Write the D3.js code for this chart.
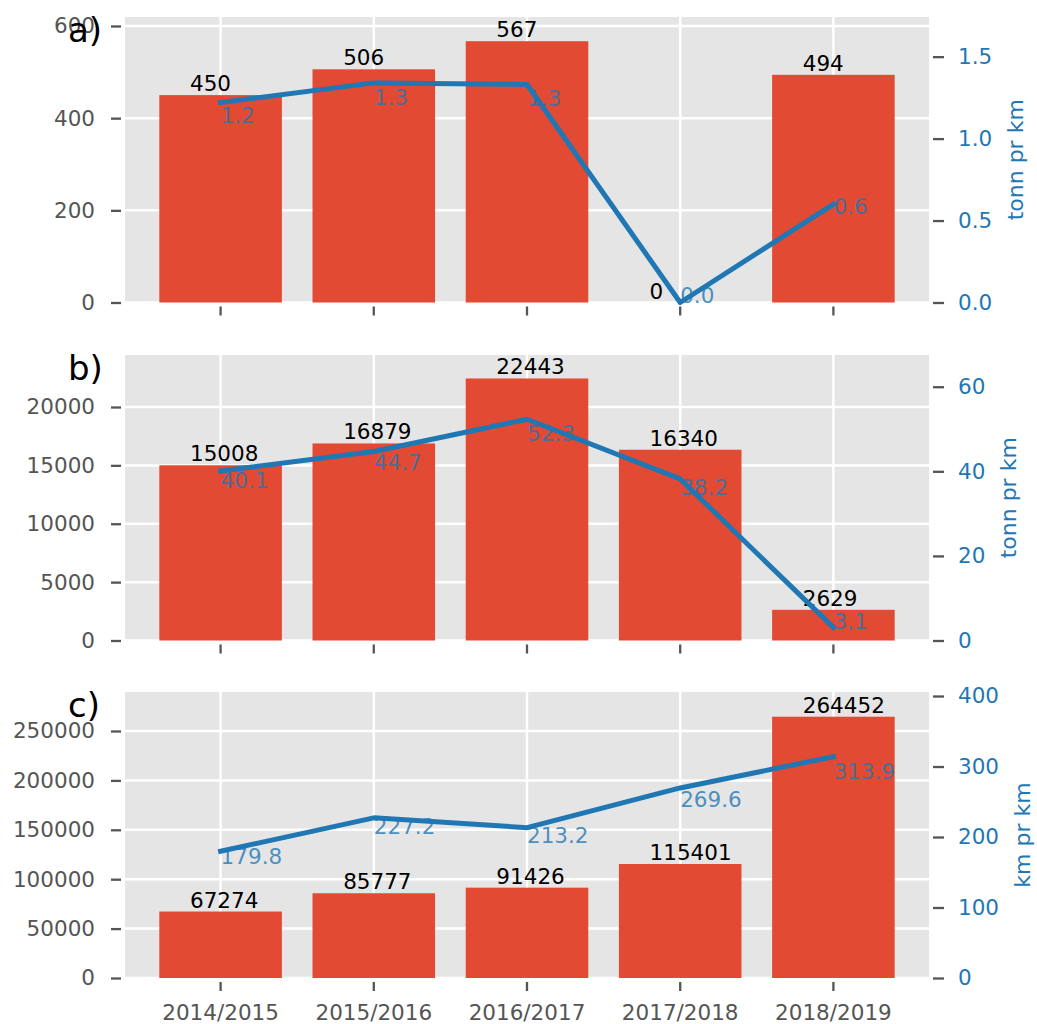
<!DOCTYPE html>
<html><head><meta charset="utf-8">
<script src="https://cdn.jsdelivr.net/npm/d3@7"></script>
<style>body{margin:0;background:#fff} text{font-family:"DejaVu Sans",sans-serif}</style>
</head><body><svg id="chart" width="1037" height="1024"></svg>
<script>
// ---- data ----
const seasons = ["2014/2015","2015/2016","2016/2017","2017/2018","2018/2019"];
const amountA = [450, 506, 567, 0, 494];
const rateA   = [1.22, 1.34, 1.33, 0.0, 0.6];
const amountB = [15008, 16879, 22443, 16340, 2629];
const rateB   = [40.1, 44.7, 52.3, 38.2, 3.1];
const amountC = [67274, 85777, 91426, 115401, 264452];
const rateC   = [179.8, 227.2, 213.2, 269.6, 313.9];
const leftTicksA  = [0, 200, 400, 600];
const leftTicksB  = [0, 5000, 10000, 15000, 20000];
const leftTicksC  = [0, 50000, 100000, 150000, 200000, 250000];
const rightTicksA = [0.0, 0.5, 1.0, 1.5];
const rightTicksB = [0, 20, 40, 60];
const rightTicksC = [0, 100, 200, 300, 400];
const panelLetters = ["a)", "b)", "c)"];
const rightTitles  = ["tonn pr km", "tonn pr km", "km pr km"];

// ---- layout ----
const svg = d3.select("#chart");
const L = 125, R = 929;
const FS = 21.5;
const panels = [
  {top:17,  bottom:302.5, amount:amountA, rate:rateA, lt:leftTicksA, rt:rightTicksA, lmax:619.5,  rmax:1.742, rfmt:d3.format(".1f"), letter:panelLetters[0], title:rightTitles[0], xlab:false},
  {top:355, bottom:640.5, amount:amountB, rate:rateB, lt:leftTicksB, rt:rightTicksB, lmax:24454,  rmax:67.5,  rfmt:d3.format("d"),   letter:panelLetters[1], title:rightTitles[1], xlab:false},
  {top:692, bottom:978,   amount:amountC, rate:rateC, lt:leftTicksC, rt:rightTicksC, lmax:289474, rmax:405.7, rfmt:d3.format("d"),   letter:panelLetters[2], title:rightTitles[2], xlab:true}
];

const x = d3.scaleBand().domain(seasons).range([L, R]).paddingInner(0.2).paddingOuter(0.224);
const cx = s => x(s) + x.bandwidth()/2;

panels.forEach(p => {
  const g = svg.append("g");
  const yL = d3.scaleLinear().domain([0, p.lmax]).range([p.bottom, p.top]);
  const yR = d3.scaleLinear().domain([0, p.rmax]).range([p.bottom, p.top]);

  g.append("rect").attr("x", L).attr("y", p.top).attr("width", R - L).attr("height", p.bottom - p.top)
    .attr("fill", "#E5E5E5");
  // grid
  g.selectAll(".hg").data(p.lt).join("line")
    .attr("x1", L).attr("x2", R).attr("y1", d => yL(d)).attr("y2", d => yL(d))
    .attr("stroke", "#fff").attr("stroke-width", 2.5);
  g.selectAll(".vg").data(seasons).join("line")
    .attr("x1", d => cx(d)).attr("x2", d => cx(d)).attr("y1", p.top).attr("y2", p.bottom)
    .attr("stroke", "#fff").attr("stroke-width", 2.5);
  // bars
  g.selectAll(".bar").data(p.amount).join("rect")
    .attr("x", (d, i) => x(seasons[i])).attr("width", x.bandwidth())
    .attr("y", d => yL(d)).attr("height", d => p.bottom - yL(d))
    .attr("fill", "#E24A33");
  // bar labels
  g.selectAll(".bl").data(p.amount).join("text")
    .attr("x", (d, i) => cx(seasons[i]) - 0.2 * x.step())
    .attr("y", d => yL(d) - 4)
    .attr("font-size", FS).attr("fill", "#000")
    .text(d => d);
  // line
  const line = d3.line().x((d, i) => cx(seasons[i])).y(d => yR(d));
  g.append("path").datum(p.rate).attr("d", line)
    .attr("fill", "none").attr("stroke", "#1f77b4").attr("stroke-width", 5)
    .attr("stroke-linecap", "square").attr("stroke-linejoin", "round");
  // line labels
  g.selectAll(".ll").data(p.rate).join("text")
    .attr("x", (d, i) => cx(seasons[i]))
    .attr("y", d => yR(0.9 * d))
    .attr("font-size", FS).attr("fill", "#1f77b4").attr("fill-opacity", 0.8)
    .text(d => d3.format(".1f")(d));

  // left axis
  const la = g.append("g").attr("transform", `translate(${L - 4},0)`)
    .call(d3.axisLeft(yL).tickValues(p.lt).tickFormat(d3.format("d")).tickSize(10).tickPadding(16).tickSizeOuter(0));
  // right axis
  const ra = g.append("g").attr("transform", `translate(${R + 4},0)`)
    .call(d3.axisRight(yR).tickValues(p.rt).tickFormat(p.rfmt).tickSize(11).tickPadding(14).tickSizeOuter(0));
  // bottom axis
  const ba = g.append("g").attr("transform", `translate(0,${p.bottom + 4})`)
    .call(d3.axisBottom(x).tickSize(9).tickPadding(14).tickSizeOuter(0).tickFormat(p.xlab ? (d => d) : () => ""));
  [la, ra, ba].forEach(a => {
    a.select(".domain").remove();
    a.selectAll(".tick line").attr("stroke", "#555").attr("stroke-width", 2.3);
    a.selectAll(".tick text").attr("font-size", FS).attr("fill", "#555").attr("font-family", '"DejaVu Sans",sans-serif');
  });
  ra.selectAll(".tick text").attr("fill", "#1f77b4");

  // right axis title
  let maxRight = 0;
  ra.selectAll(".tick text").each(function(){ const b = this.getBBox(); maxRight = Math.max(maxRight, b.x + b.width); });
  const tx = R + 4 + maxRight + 31, ty = (p.top + p.bottom) / 2;
  g.append("text").attr("transform", `translate(${tx},${ty}) rotate(-90)`)
    .attr("text-anchor", "middle").attr("font-size", 22).attr("fill", "#1f77b4")
    .text(p.title);

  // panel letter
  g.append("text").attr("x", 68).attr("y", p.top + 25).attr("font-size", 34).attr("fill", "#000")
    .text(p.letter);
});
</script></body></html>
